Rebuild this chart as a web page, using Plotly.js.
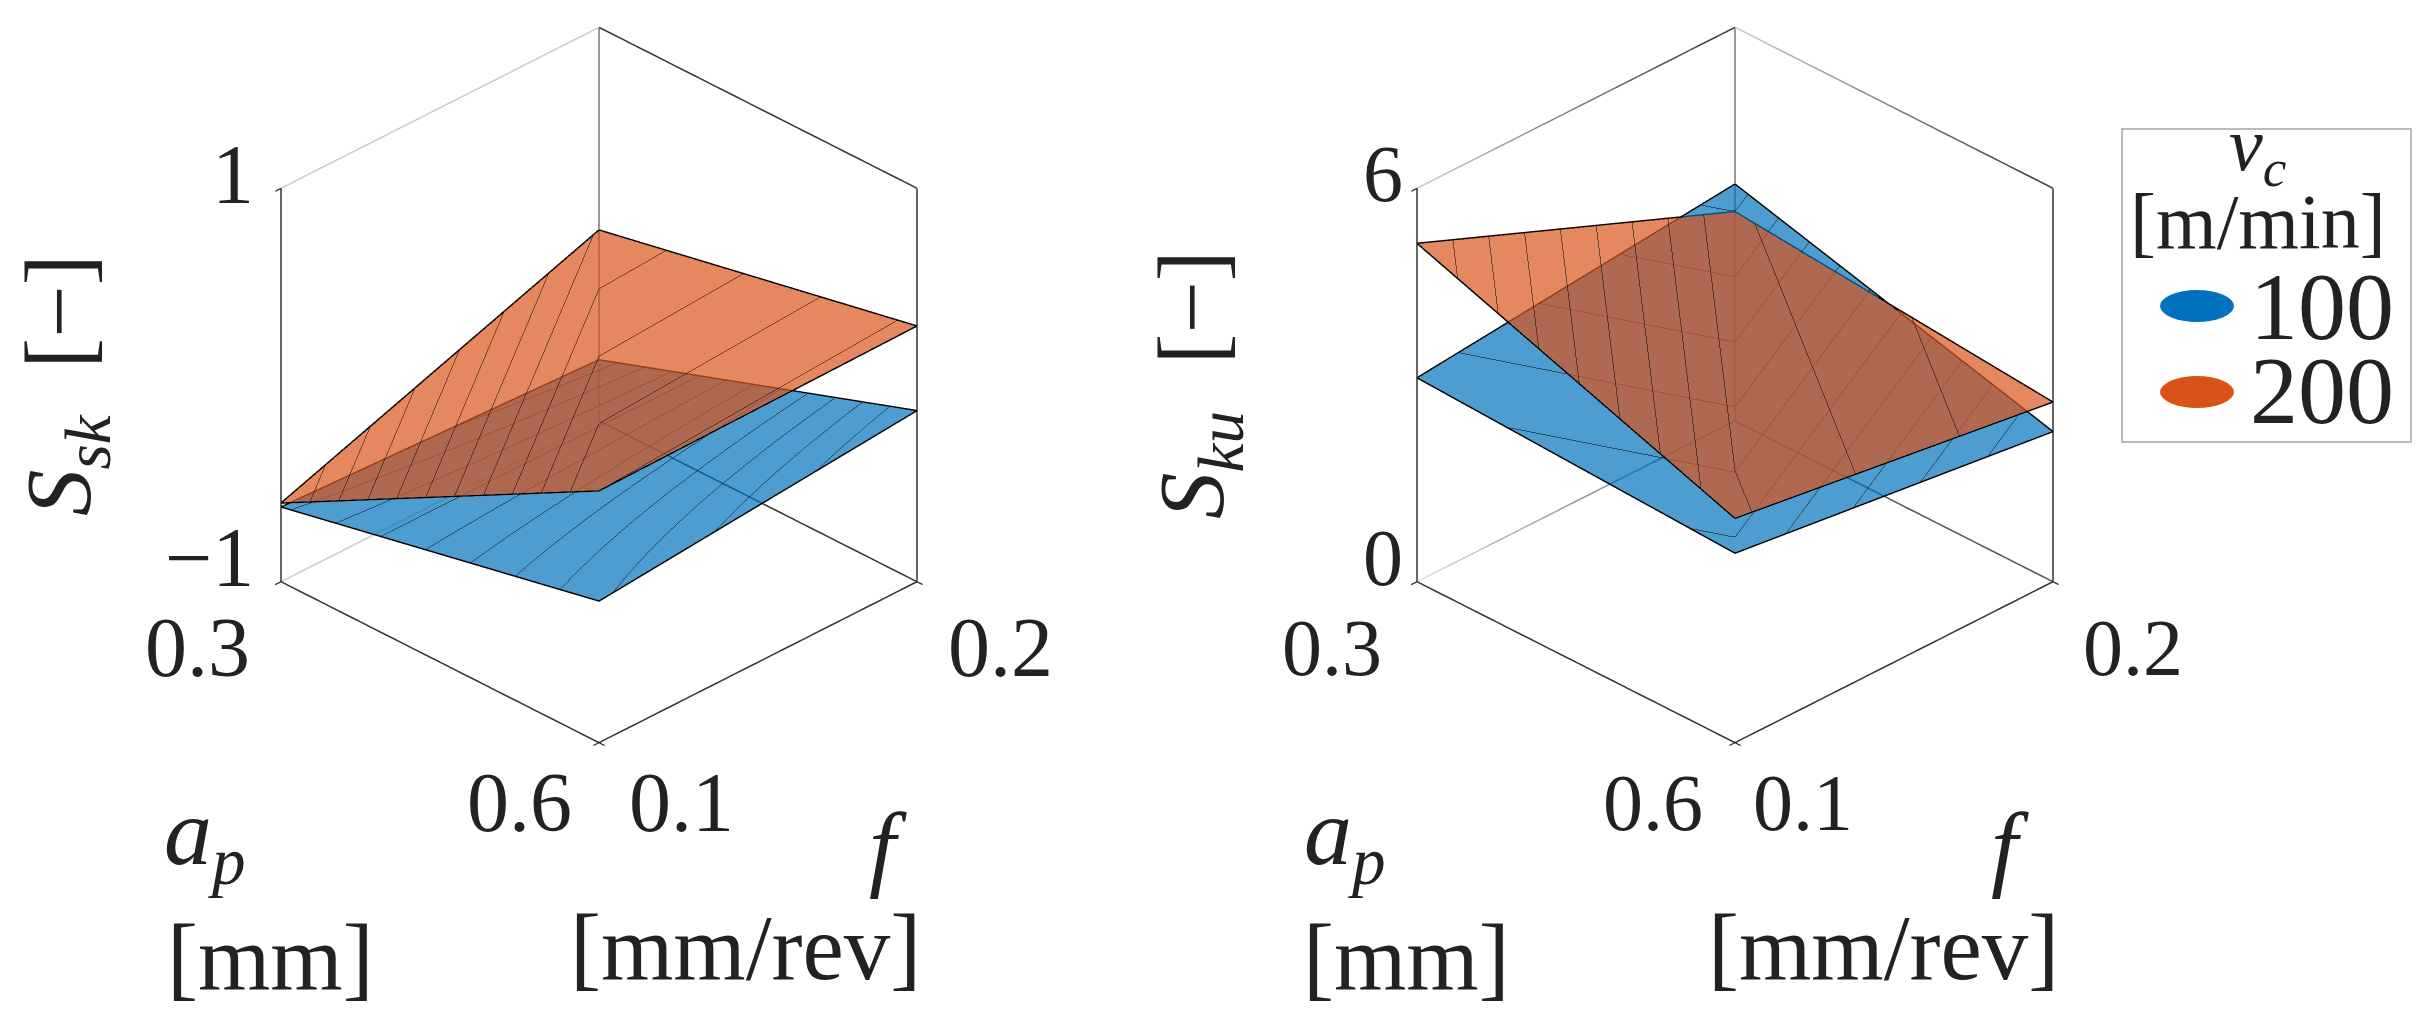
<!DOCTYPE html>
<html><head><meta charset="utf-8">
<script src="https://cdn.plot.ly/plotly-3.0.1.min.js"></script>
<style>html,body{margin:0;padding:0;background:#fff}</style></head>
<body><div id="chart" style="width:2433px;height:1015px"></div>
<script>
const W=2433,H=1015;
const apTicks=[0.3,0.6];
const fTicks=[0.1,0.2];
// surface corners, folded along the (0.6,0.1)-(0.3,0.2) diagonal
const apMesh=[[0.3,0.6,0.6],[0.3,0.3,0.6]];
const fMesh=[[0.1,0.1,0.2],[0.1,0.2,0.2]];
// plain four-corner grid, for the surface that shows no fold
const apGrid=[[0.3,0.6],[0.3,0.6]];
const fGrid=[[0.1,0.1],[0.2,0.2]];
const sskTicks=[-1,1];
const skuTicks=[0,6];
const sskBlue=[[-0.62,-0.28],[-0.69,-0.13]];
const sskOrange=[[-0.60,0.28,0.30],[-0.60,-0.03,0.30]];
const skuBlue=[[3.11,2.89,2.29],[3.11,3.61,2.29]];
const skuOrange=[[5.16,3.42,2.74],[5.16,3.19,2.74]];
const BLUE='#0072BD',ORANGE='#D95319';
const SERIF='"Liberation Serif","Times New Roman",serif';
const EYE=1.0;

function surf(z,color,scene,lev,name){
  const n=z[0].length===2;
  return {type:'surface',scene,x:n?apGrid:apMesh,y:n?fGrid:fMesh,z,name,opacity:0.7,showscale:false,hoverinfo:'skip',
    colorscale:[[0,color],[1,color]],
    lighting:{ambient:1,diffuse:0,specular:0,fresnel:0,roughness:1},
    contours:{z:{show:true,start:lev[0],end:lev[1],size:lev[2],color:'#000',width:3,usecolormap:false,highlight:false},
              x:{highlight:false},y:{highlight:false}}};
}
function rim(z,scene){
  const n=z[0].length===2;
  const xs=n?apGrid:apMesh,ys=n?fGrid:fMesh;
  const p=n?[[0,0],[0,1],[1,1],[1,0],[0,0]]:[[0,0],[0,1],[0,2],[1,1],[1,0]];
  return {type:'scatter3d',mode:'lines',scene,hoverinfo:'skip',showlegend:false,
    x:p.map(q=>xs[q[0]][q[1]]),y:p.map(q=>ys[q[0]][q[1]]),z:p.map(q=>z[q[0]][q[1]]),
    line:{color:'#000',width:3}};
}
function edge(a,b,c,scene){
  const cols=Array.isArray(c)?c:[c,c];
  return {type:'scatter3d',mode:'lines',scene,hoverinfo:'skip',showlegend:false,
    x:[a[0],b[0]],y:[a[1],b[1]],z:[a[2],b[2]],
    line:{color:[0,1],cmin:0,cmax:1,colorscale:[[0,cols[0]],[1,cols[1]]],showscale:false,width:3}};
}
function box(scene,zr,c){
  const x0=apTicks[0],x1=apTicks[1],y0=fTicks[0],y1=fTicks[1],z0=zr[0],z1=zr[1];
  const D='#333';
  return [
    edge([x0,y0,z0],[x1,y0,z0],D,scene),
    edge([x1,y0,z0],[x1,y1,z0],D,scene),
    edge([x0,y0,z0],[x0,y0,z1],D,scene),
    edge([x1,y1,z0],[x1,y1,z1],D,scene),
    edge([x0,y1,z0],[x0,y1,z1],'#777',scene),
    edge([x0,y0,z0],[x0,y1,z0],c[0],scene),
    edge([x1,y1,z0],[x0,y1,z0],c[1],scene),
    edge([x0,y0,z1],[x0,y1,z1],c[2],scene),
    edge([x1,y1,z1],[x0,y1,z1],c[3],scene)
  ];
}
function tickAnn(x,y,z,text,size,xs,ys,xa){
  return {x,y,z,text,showarrow:false,xshift:xs,yshift:ys,xanchor:xa||'center',yanchor:'middle',
    font:{family:SERIF,size,color:'#222'}};
}
function sceneCfg(dom,zr,zt,size,zs,sh){
  const ax=(r,t)=>({range:r,tickvals:t,showticklabels:false,title:{text:''},showgrid:false,zeroline:false,
    showbackground:false,showline:false,ticks:'outside',ticklen:8,tickcolor:'#333',tickwidth:3,showspikes:false,autorange:false});
  return {domain:dom,
    aspectmode:'manual',aspectratio:{x:1.168,y:1.168,z:1.185},
    bgcolor:'rgba(0,0,0,0)',
    camera:{projection:{type:'orthographic'},eye:{x:EYE,y:-EYE,z:0.83*EYE},center:{x:0,y:0,z:0},up:{x:0,y:0,z:1}},
    xaxis:ax([apTicks[0],apTicks[1]],apTicks),yaxis:ax([fTicks[0],fTicks[1]],fTicks),zaxis:ax(zr,zt),
    annotations:[
      tickAnn(apTicks[0],fTicks[0],zt[1],String(zt[1]),size,zs,14,'right'),
      tickAnn(apTicks[0],fTicks[0],zt[0],String(zt[0]).replace('-','\u2212'),size,zs,24,'right'),
      tickAnn(apTicks[0],fTicks[0],zt[0],apTicks[0].toFixed(1),size,sh[0],-66),
      tickAnn(apTicks[1],fTicks[0],zt[0],apTicks[1].toFixed(1),size,sh[1],-60),
      tickAnn(apTicks[1],fTicks[0],zt[0],fTicks[0].toFixed(1),size,sh[2],-60),
      tickAnn(apTicks[1],fTicks[1],zt[0],fTicks[1].toFixed(1),size,sh[3],-66)
    ]};
}
const px=(x,y)=>({x:x/W,y:1-y/H,xref:'paper',yref:'paper',showarrow:false,xanchor:'center',yanchor:'middle'});
function label(x,y,text,size,extra){
  return Object.assign(px(x,y),{text,font:{family:SERIF,size,color:'#222'}},extra||{});
}
const dom=(l,r)=>({x:[l/W,r/W],y:[1-770/H,1]});
const data=[
  ...box('scene',sskTicks,['#ccc','#333','#ccc','#333']),
  surf(sskBlue,BLUE,'scene',[-0.8015,0.2,0.048],'100'),surf(sskOrange,ORANGE,'scene',[-0.6,0.4,0.08],'200'),
  rim(sskBlue,'scene'),rim(sskOrange,'scene'),
  ...box('scene2',skuTicks,[['#ddd','#555'],'#555',['#ccc','#333'],['#333','#ccc']]),
  surf(skuBlue,BLUE,'scene2',[2.286,3.7,0.127],'100'),surf(skuOrange,ORANGE,'scene2',[2.94,5.2,0.222],'200'),
  rim(skuBlue,'scene2'),rim(skuOrange,'scene2')
];
const layout={width:W,height:H,margin:{l:0,r:0,t:0,b:0},paper_bgcolor:'#fff',showlegend:false,
  scene:sceneCfg(dom(199,999),sskTicks,sskTicks,84,-25,[-84,-80,82,84]),
  scene2:sceneCfg(dom(1335,2135),skuTicks,skuTicks,80,-12,[-85,-82,68,80]),
  shapes:[
    {type:'rect',xref:'paper',yref:'paper',x0:2122/W,x1:2411/W,y0:1-129/H,y1:1-442/H,line:{color:'#bbb',width:2},fillcolor:'#fff'},
    {type:'circle',xref:'paper',yref:'paper',x0:2160/W,x1:2234/W,y0:1-290/H,y1:1-322/H,fillcolor:BLUE,line:{width:0}},
    {type:'circle',xref:'paper',yref:'paper',x0:2160/W,x1:2234/W,y0:1-376/H,y1:1-408/H,fillcolor:ORANGE,line:{width:0}}
  ],
  annotations:[
    label(65,385,'<i>S<sub>sk</sub></i>  [\u2212]',93,{textangle:-90}),
    label(205,838,'<i>a<sub>p</sub></i>',96),
    label(270,957,'[mm]',93),
    label(888,846,'<i>f</i>',96),
    label(746,947,'[mm/rev]',93),
    label(1198,385,'<i>S<sub>ku</sub></i>  [\u2212]',93,{textangle:-90}),
    label(1345,838,'<i>a<sub>p</sub></i>',96),
    label(1406,957,'[mm]',93),
    label(2010,846,'<i>f</i>',96),
    label(1883,947,'[mm/rev]',93),
    label(2258,150,'<i>v<sub>c</sub></i>',76),
    label(2258,222,'[m/min]',78),
    label(2322,306,'100',96),
    label(2322,390,'200',96)
  ]};
Plotly.newPlot('chart',data,layout,{displayModeBar:false,scrollZoom:false});
</script></body></html>
